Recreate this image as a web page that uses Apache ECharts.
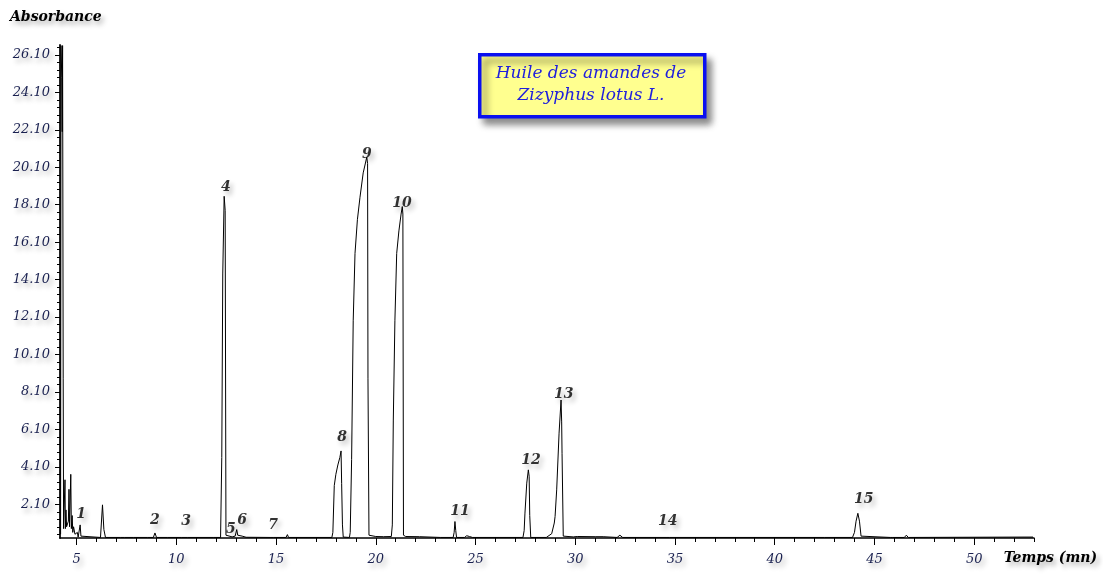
<!DOCTYPE html>
<html>
<head>
<meta charset="utf-8">
<script src="https://cdn.jsdelivr.net/npm/echarts@6/dist/echarts.min.js"></script>
<style>
html,body{margin:0;padding:0;background:#fff;}
#chart{width:1103px;height:574px;}
</style>
</head>
<body>
<div id="chart"></div>
<script>
// Retention time (min) of each trace point
const traceTimes = [
  4.20, 4.22, 4.26, 4.28, 4.30, 4.33, 4.35,
  4.39, 4.42, 4.44, 4.47, 4.50, 4.55, 4.59, 4.62, 4.65, 4.68, 4.71, 4.74, 4.78, 4.81, 4.85, 4.88, 4.92, 4.96, 5.00, 5.04, 5.08, 5.12, 5.18, 5.22, 5.30,
  6.20, 6.28, 6.30, 6.34, 6.37, 6.42, 6.45,
  7.20, 7.30, 7.40, 7.85, 7.90, 7.95, 8.55, 8.60, 8.65, 8.85, 8.93, 9.01, 9.55, 9.60, 9.65, 10.25, 10.30, 10.35, 10.55, 10.60, 10.65, 11.85, 11.90, 11.95,
  12.22, 12.25, 12.28, 12.33, 12.40, 12.42, 12.45, 12.49, 12.55,
  12.80, 12.95, 13.03, 13.08, 13.30, 13.50,
  14.70, 14.78, 14.86, 15.50, 15.57, 15.63,
  17.80, 17.85, 17.92, 18.00, 18.10, 18.20, 18.26, 18.29, 18.33, 18.37,
  18.68, 18.72, 18.79, 18.87, 18.96, 19.08, 19.21, 19.37, 19.55, 19.59, 19.61, 19.66, 19.75,
  20.00, 20.40, 20.78,
  20.83, 20.88, 20.96, 21.05, 21.16, 21.27, 21.33, 21.36, 21.39, 21.50, 22.20, 22.30,
  23.25, 23.30, 23.35,
  23.88, 23.93, 23.97, 24.01, 24.05,
  24.45, 24.56, 24.70, 24.85,
  27.38, 27.44, 27.48, 27.57, 27.65, 27.69, 27.72, 27.77,
  28.55, 28.82, 28.95, 28.99, 29.07, 29.19, 29.29, 29.32, 29.34, 29.40, 29.50,
  29.90, 30.10, 30.20, 31.00, 31.40, 31.50, 32.10, 32.24, 32.38,
  34.60, 34.66, 34.72, 42.50, 42.55, 42.60,
  43.90, 44.00, 44.08, 44.17, 44.25, 44.33, 44.40,
  45.80, 45.86, 45.92, 46.50, 46.60, 46.70, 52.50, 52.95
];
// Absorbance of each trace point
const traceAbsorbance = [
  0.50, 26.60, 24.90, 22.00, 26.60, 8.80, 0.80,
  0.90, 3.41, 0.80, 1.80, 0.90, 0.80, 1.20, 2.90, 0.90, 1.00, 3.70, 0.80, 1.50, 0.60, 0.90, 1.00, 0.50, 0.60, 0.40, 0.60, 0.35, 0.40, 1.00, 0.40, 0.33,
  0.33, 0.40, 2.07, 2.00, 0.75, 0.70, 0.33,
  0.33, 0.38, 0.33, 0.33, 0.37, 0.33, 0.33, 0.40, 0.33, 0.33, 0.57, 0.33, 0.33, 0.38, 0.33, 0.33, 0.42, 0.33, 0.33, 0.38, 0.33, 0.33, 0.42, 0.33,
  0.33, 0.36, 4.60, 14.40, 18.55, 18.50, 17.80, 0.45, 0.38,
  0.36, 0.40, 0.75, 0.45, 0.40, 0.34,
  0.33, 0.42, 0.33, 0.33, 0.48, 0.33,
  0.33, 0.60, 3.10, 3.70, 4.20, 4.60, 4.95, 3.20, 1.00, 0.35,
  0.33, 0.60, 4.50, 11.90, 15.50, 17.30, 18.50, 19.80, 20.64, 20.30, 8.80, 0.45, 0.38,
  0.38, 0.37, 0.38,
  1.00, 6.60, 11.90, 15.50, 16.70, 17.60, 18.00, 17.60, 0.45, 0.38, 0.37, 0.33,
  0.33, 0.37, 0.33,
  0.33, 0.60, 1.18, 0.70, 0.33,
  0.33, 0.42, 0.38, 0.33,
  0.33, 0.70, 1.63, 3.23, 3.94, 3.60, 1.50, 0.33,
  0.33, 0.53, 1.10, 1.45, 2.87, 5.90, 7.67, 6.50, 4.80, 0.40, 0.36,
  0.36, 0.38, 0.33, 0.37, 0.37, 0.33, 0.33, 0.45, 0.33,
  0.33, 0.38, 0.33, 0.33, 0.38, 0.33,
  0.33, 0.60, 1.20, 1.62, 1.20, 0.40, 0.33,
  0.33, 0.38, 0.33, 0.33, 0.45, 0.33, 0.35, 0.35
];
// Peak numbers and where their labels sit (time, absorbance)
const peakNames = ['1','2','3','4','5','6','7','8','9','10','11','12','13','14','15'];
const peakLabelTimes = [5.23, 8.93, 10.49, 12.49, 12.74, 13.30, 14.85, 18.31, 19.56, 21.32, 24.22, 27.78, 29.43, 34.64, 44.47];
const peakLabelAbs = [1.54, 1.22, 1.17, 19.03, 0.74, 1.22, 0.96, 5.70, 20.81, 18.15, 1.70, 4.42, 7.99, 1.17, 2.34];
// Axis tick values
const xMajorTicks = [5, 10, 15, 20, 25, 30, 35, 40, 45, 50];
const yMajorTicks = [2.1, 4.1, 6.1, 8.1, 10.1, 12.1, 14.1, 16.1, 18.1, 20.1, 22.1, 24.1, 26.1];

const X_MIN = 4.17, X_MAX = 53, Y_MIN = 0.3, Y_MAX = 26.63;

const xMinorTicks = [];
for (let i = 5; i <= 53; i++) if (i % 5 !== 0) xMinorTicks.push(i);
const yMinorTicks = [];
for (let v = 0.5; v < 26.6; v += 0.4) {
  const r = Math.round(v * 10) / 10;
  if (!yMajorTicks.some(m => Math.abs(m - r) < 0.01)) yMinorTicks.push(r);
}

const traceData = traceTimes.map((t, i) => [t, traceAbsorbance[i]]);
const labelData = peakNames.map((n, i) => ({ value: [peakLabelTimes[i], peakLabelAbs[i]], name: n }));

const shadowTxt = {
  textShadowColor: 'rgba(0,0,0,0.3)', textShadowBlur: 5,
  textShadowOffsetX: 3, textShadowOffsetY: 4
};
const tickFont = Object.assign({
  fontFamily: 'DejaVu Serif', fontStyle: 'italic', fontSize: 13, color: '#1a2150'
}, shadowTxt);

const chart = echarts.init(document.getElementById('chart'), null, { renderer: 'canvas' });
chart.setOption({
  animation: false,
  backgroundColor: '#ffffff',
  grid: { left: 60, right: 69, top: 45, bottom: 36 },
  xAxis: [{
    type: 'value', min: X_MIN, max: X_MAX,
    axisLine: { show: true, lineStyle: { color: '#000', width: 1.5 } },
    axisTick: { show: true, customValues: xMajorTicks, length: 7, lineStyle: { color: '#000', width: 1 } },
    axisLabel: Object.assign({ show: true, customValues: xMajorTicks, margin: 15,
      formatter: v => String(Math.round(v)) }, tickFont),
    splitLine: { show: false }
  }, {
    type: 'value', min: X_MIN, max: X_MAX, position: 'bottom',
    axisLine: { show: false },
    axisTick: { show: true, customValues: xMinorTicks, length: 4, lineStyle: { color: '#000', width: 1 } },
    axisLabel: { show: false },
    splitLine: { show: false }
  }],
  yAxis: [{
    type: 'value', min: Y_MIN, max: Y_MAX,
    axisLine: { show: true, lineStyle: { color: '#222', width: 2 } },
    axisTick: { show: true, customValues: yMajorTicks, length: 5, lineStyle: { color: '#000', width: 1 } },
    axisLabel: Object.assign({ show: true, customValues: yMajorTicks, margin: 10,
      formatter: v => v.toFixed(2) }, tickFont),
    splitLine: { show: false }
  }, {
    type: 'value', min: Y_MIN, max: Y_MAX, position: 'left',
    axisLine: { show: false },
    axisTick: { show: true, customValues: yMinorTicks, length: 3, lineStyle: { color: '#000', width: 1 } },
    axisLabel: { show: false },
    splitLine: { show: false }
  }],
  series: [{
    type: 'line',
    data: traceData,
    showSymbol: false,
    symbol: 'none',
    lineStyle: { color: '#000', width: 1 },
    clip: true,
    z: 3
  }, {
    type: 'scatter',
    data: labelData,
    symbolSize: 0,
    z: 4,
    label: Object.assign({
      show: true, position: 'inside', formatter: p => p.name,
      fontFamily: 'DejaVu Serif', fontStyle: 'italic', fontWeight: 'bold', fontSize: 14, color: '#000000'
    }, shadowTxt)
  }],
  graphic: [
    {
      type: 'rect', left: 478, top: 53, z: 10,
      shape: { width: 225, height: 62 },
      style: { fill: '#ffff8f', stroke: '#0a10f0', lineWidth: 3.5,
        shadowBlur: 7, shadowColor: 'rgba(0,0,0,0.45)', shadowOffsetX: 5, shadowOffsetY: 6 }
    },
    {
      type: 'text', z: 11, x: 591, y: 74,
      style: { text: 'Huile des amandes de', textAlign: 'center', textVerticalAlign: 'middle',
        fontFamily: 'DejaVu Serif', fontStyle: 'italic', fontSize: 17, fill: '#2020dc' }
    },
    {
      type: 'text', z: 11, x: 591, y: 96,
      style: { text: 'Zizyphus lotus L.', textAlign: 'center', textVerticalAlign: 'middle',
        fontFamily: 'DejaVu Serif', fontStyle: 'italic', fontSize: 17, fill: '#2020dc' }
    },
    {
      type: 'text', z: 11, x: 10, y: 17,
      style: Object.assign({ text: 'Absorbance', textAlign: 'left', textVerticalAlign: 'middle',
        fontFamily: 'DejaVu Serif', fontStyle: 'italic', fontWeight: 'bold', fontSize: 14, fill: '#000' }, shadowTxt)
    },
    {
      type: 'text', z: 11, x: 1097, y: 558,
      style: Object.assign({ text: 'Temps (mn)', textAlign: 'right', textVerticalAlign: 'middle',
        fontFamily: 'DejaVu Serif', fontStyle: 'italic', fontWeight: 'bold', fontSize: 14, fill: '#000' }, shadowTxt)
    }
  ]
});
</script>
</body>
</html>
